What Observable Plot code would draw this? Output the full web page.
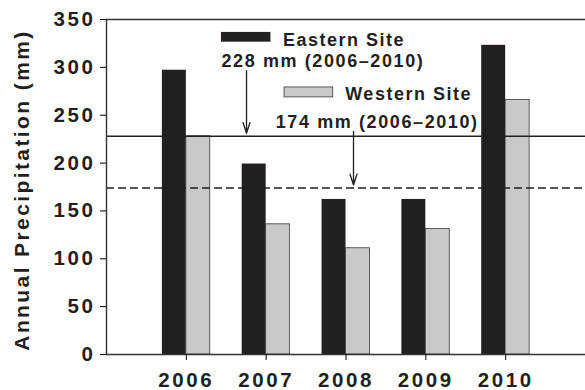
<!DOCTYPE html>
<html>
<head>
<meta charset="utf-8">
<script src="https://cdn.jsdelivr.net/npm/d3@7"></script>
<script src="https://cdn.jsdelivr.net/npm/@observablehq/plot@0.6"></script>
<style>
  html, body { margin: 0; padding: 0; background: #fff; }
  #chart svg { font-family: "Liberation Sans", Arial, sans-serif; font-weight: bold; }
  #chart svg text { letter-spacing: 2.6px; fill: #231f20; }
</style>
</head>
<body>
<div id="chart"></div>
<script>
// Annual precipitation at two sites, 2006–2010
const years = [2006, 2007, 2008, 2009, 2010];
const eastern = [297, 199, 162, 162, 323];
const western = [228, 136, 111, 131, 266];
const siteNames = ["Eastern Site", "Western Site"];
const siteColors = ["#231f20", "#c8c9cb"];
const periodMeans = [228, 174];
const yTicks = [0, 50, 100, 150, 200, 250, 300, 350];
const axisTitle = "Annual Precipitation (mm)";

const barWidth = 0.3;
const rows = years.flatMap((yr, i) => [
  {year: yr, site: siteNames[0], value: eastern[i], x1: yr - barWidth, x2: yr},
  {year: yr, site: siteNames[1], value: western[i], x1: yr, x2: yr + barWidth}
]);

const meanLabel = (v) => `${v} mm (${years[0]}–${years[years.length - 1]})`;

// legend swatches and annotation placement, in data units
const legend = [
  {name: siteNames[0], fill: siteColors[0], x1: 2006.44, x2: 2007.06, y1: 326.3, y2: 336.5, tx: 2007.21, ty: 321.8},
  {name: siteNames[1], fill: siteColors[1], x1: 2007.23, x2: 2007.84, y1: 268.6, y2: 279, tx: 2007.99, ty: 266}
];
const notes = [
  {mean: periodMeans[0], tx: 2006.44, ty: 300.2, ax: 2006.754, ay: 296.5},
  {mean: periodMeans[1], tx: 2007.12, ty: 236.9, ax: 2008.094, ay: 233}
];

const chart = Plot.plot({
  width: 585,
  height: 390,
  marginLeft: 106,
  marginRight: 0,
  marginTop: 19,
  marginBottom: 36,
  x: {domain: [2005, 2011], axis: null},
  y: {domain: [0, 350], axis: null},
  marks: [
    Plot.rect(rows, {
      x1: "x1", x2: "x2", y1: 0, y2: "value",
      fill: (d) => siteColors[siteNames.indexOf(d.site)],
      stroke: (d) => d.site === siteNames[1] ? "#3a3a3a" : "none",
      strokeWidth: 0.8
    }),
    // period mean lines: eastern solid, western dashed
    Plot.ruleY([notes[0]], {y: "mean", stroke: "#231f20", strokeWidth: 1.4}),
    Plot.ruleY([notes[1]], {y: "mean", stroke: "#231f20", strokeWidth: 1.4, strokeDasharray: "8,4"}),
    // frame lines: left, bottom, top
    Plot.ruleX([2005], {stroke: "#333", strokeWidth: 1.4}),
    Plot.ruleY([0], {stroke: "#333", strokeWidth: 1.4}),
    Plot.ruleY([350], {stroke: "#333", strokeWidth: 1.4}),
    Plot.axisY({
      ticks: yTicks, tickSize: 6, tickPadding: 5, fontSize: 20.5, label: null,
      tickFormat: (d) => String(d)
    }),
    Plot.axisX({
      ticks: years, tickSize: 6, tickPadding: 12, fontSize: 20.5, label: null,
      tickFormat: (d) => String(d)
    }),
    Plot.text([axisTitle], {
      frameAnchor: "left", textAnchor: "middle", rotate: -90, dx: -84, dy: 3, fontSize: 21, text: (d) => d
    }),
    // legend
    Plot.rect(legend, {
      x1: "x1", x2: "x2", y1: "y1", y2: "y2", fill: "fill",
      stroke: (d) => d.name === siteNames[1] ? "#3a3a3a" : "none", strokeWidth: 0.8
    }),
    Plot.text(legend, {
      x: "tx", y: "ty", text: "name", textAnchor: "start", lineAnchor: "bottom", fontSize: 18
    }),
    // mean annotations with arrows
    Plot.text(notes, {
      x: "tx", y: "ty", text: (d) => meanLabel(d.mean), textAnchor: "start", lineAnchor: "bottom", fontSize: 18
    }),
    Plot.arrow(notes, {
      x1: "ax", x2: "ax", y1: "ay", y2: "mean", stroke: "#231f20", strokeWidth: 1.3,
      headLength: 13, headAngle: 36, insetEnd: 3
    })
  ]
});

d3.select(chart).selectAll("text").each(function () {
  const t = this.textContent;
  if (siteNames.includes(t)) this.style.letterSpacing = "1.5px";
  else if (t.includes("mm (")) this.style.letterSpacing = "1.6px";
  else if (t === axisTitle) this.style.letterSpacing = "2.4px";
});

document.getElementById("chart").append(chart);
</script>
</body>
</html>
